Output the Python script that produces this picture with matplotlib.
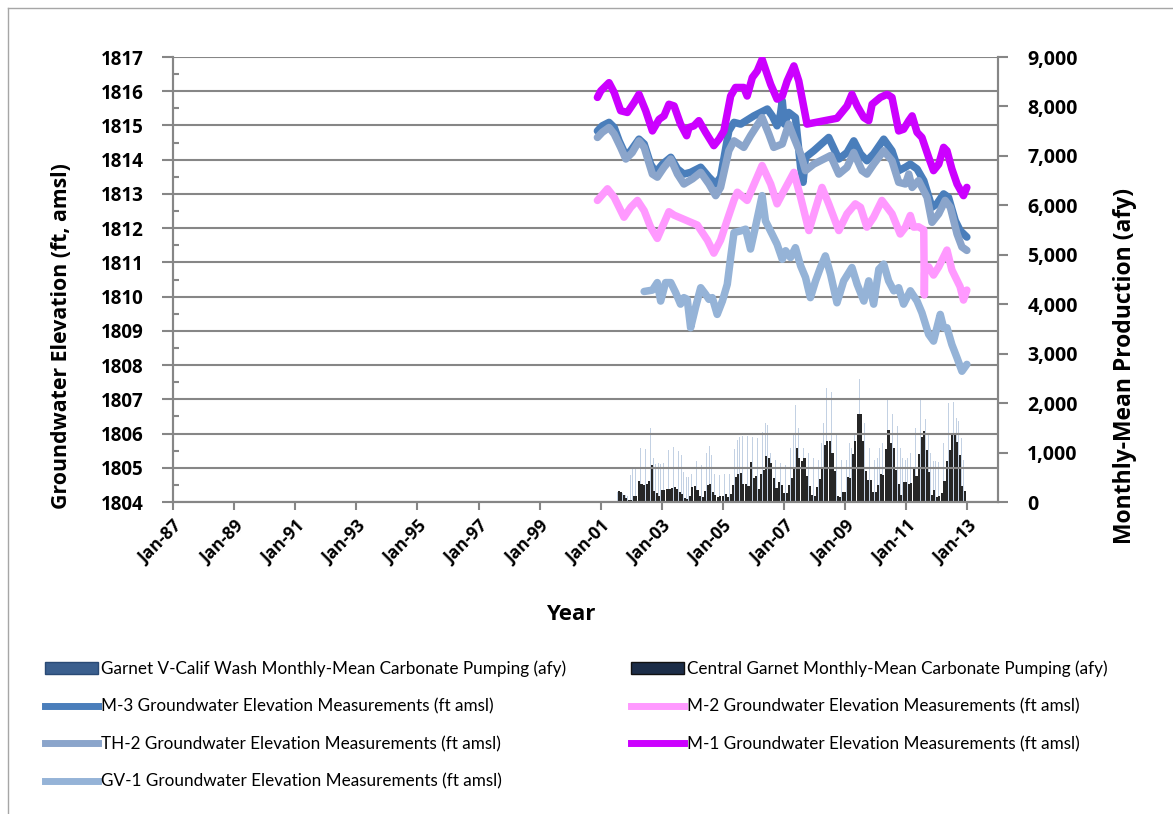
import matplotlib.pyplot as plt
import numpy as np
from matplotlib.lines import Line2D
from matplotlib.patches import Patch

plt.rcParams['font.family'] = ['Open Sans', 'DejaVu Sans']

# monthly pumping, Aug-2001 .. Dec-2012 (afy)
pump_start = 2001 + 7 / 12
central_garnet = [230, 200, 150, 90, 50,
                  40, 130, 120, 430, 360, 350, 370, 430, 740, 230, 190, 120,
                  250, 240, 260, 260, 280, 300, 260, 200, 170, 80, 60, 120,
                  300, 330, 250, 130, 110, 230, 340, 360, 200, 150, 110, 130,
                  120, 160, 110, 170, 340, 500, 570, 590, 360, 370, 330, 800,
                  480, 520, 260, 560, 640, 930, 890, 780, 480, 280, 400, 350,
                  190, 190, 340, 480, 700, 1100, 880, 820, 880, 530, 320, 140,
                  130, 310, 460, 700, 1150, 1230, 1230, 1000, 630, 120, 110, 200,
                  200, 510, 480, 970, 1230, 1780, 1780, 1230, 620, 450, 450, 200,
                  200, 340, 560, 540, 1070, 1460, 1200, 1100, 650, 360, 140, 400,
                  400, 360, 380, 715, 530, 970, 1320, 1430, 1050, 610, 140, 240,
                  110, 120, 190, 430, 820, 1050, 1350, 1350, 1215, 945, 330, 215]
garnet_v_calif = [200, 200, 180, 150, 120,
                  550, 680, 680, 760, 1100, 1000, 1070, 1170, 1490, 900, 760, 780,
                  760, 780, 980, 1050, 1080, 1120, 1100, 1030, 960, 600, 500, 500,
                  560, 820, 830, 840, 740, 800, 1000, 1130, 960, 560, 550, 540,
                  570, 560, 580, 560, 900, 1080, 1250, 1320, 1330, 1250, 1330, 1330,
                  1320, 1200, 1290, 1360, 1420, 1600, 1550, 1000, 900, 850, 780, 790,
                  780, 750, 900, 1100, 1380, 1960, 1500, 1300, 1100, 1050, 1000, 900,
                  880, 900, 850, 1200, 1600, 2300, 2280, 2220, 1900, 1400, 900, 850,
                  860, 850, 1200, 1100, 1400, 1950, 2480, 2650, 1600, 1300, 1100, 880,
                  850, 900, 1100, 1200, 1600, 2100, 2130, 1780, 1800, 1540, 1100, 900,
                  850, 900, 1000, 1300, 1500, 1600, 2100, 2130, 1680, 1400, 1000, 830,
                  830, 800, 1000, 1200, 1650, 2000, 2050, 2030, 1700, 1640, 1300, 850]

# groundwater elevations (decimal year, ft amsl)
m3_yr = [2000.89, 2001.05, 2001.27, 2001.44, 2001.60, 2001.82, 2001.98, 2002.25, 2002.42, 2002.63,
         2002.80, 2003.02, 2003.29, 2003.51, 2003.72, 2003.94, 2004.27, 2004.54, 2004.76, 2004.92,
         2005.19, 2005.36, 2005.58, 2006.01, 2006.45, 2006.61, 2006.77, 2006.88, 2006.94, 2007.01,
         2007.15, 2007.37, 2007.54, 2007.62, 2007.70, 2007.97, 2008.46, 2008.79, 2009.06, 2009.28,
         2009.50, 2009.71, 2009.93, 2010.26, 2010.53, 2010.75, 2010.97, 2011.13, 2011.35, 2011.57,
         2011.84, 2012.00, 2012.22, 2012.38, 2012.60, 2012.76, 2012.98]
m3_ft = [1814.84, 1814.99, 1815.09, 1814.94, 1814.55, 1814.12, 1814.26, 1814.60, 1814.46, 1813.87,
         1813.63, 1813.87, 1814.07, 1813.73, 1813.58, 1813.63, 1813.78, 1813.49, 1813.29, 1813.49,
         1814.84, 1815.09, 1815.04, 1815.28, 1815.48, 1815.28, 1814.99, 1815.33, 1815.72, 1815.04,
         1815.38, 1815.23, 1813.78, 1813.34, 1814.07, 1814.26, 1814.65, 1814.02, 1814.21, 1814.55,
         1814.17, 1813.97, 1814.17, 1814.60, 1814.26, 1813.68, 1813.78, 1813.87, 1813.73, 1813.39,
         1812.61, 1812.71, 1813.00, 1812.90, 1812.22, 1811.93, 1811.74]

th2_yr = [2000.89, 2001.05, 2001.27, 2001.44, 2001.65, 2001.82, 2002.03, 2002.25, 2002.42, 2002.69,
          2002.85, 2003.07, 2003.29, 2003.51, 2003.72, 2004.00, 2004.27, 2004.54, 2004.76, 2004.92,
          2005.19, 2005.36, 2005.68, 2005.90, 2006.28, 2006.50, 2006.66, 2006.94, 2007.15, 2007.32,
          2007.54, 2007.70, 2007.97, 2008.52, 2008.79, 2009.06, 2009.28, 2009.55, 2009.71, 2009.93,
          2010.26, 2010.53, 2010.75, 2010.97, 2011.08, 2011.19, 2011.40, 2011.68, 2011.84, 2012.06,
          2012.27, 2012.44, 2012.66, 2012.82, 2012.98]
th2_ft = [1814.65, 1814.80, 1814.94, 1814.75, 1814.36, 1814.02, 1814.21, 1814.55, 1814.36, 1813.58,
          1813.49, 1813.78, 1814.02, 1813.58, 1813.29, 1813.44, 1813.63, 1813.29, 1812.95, 1813.19,
          1814.26, 1814.55, 1814.36, 1814.70, 1815.23, 1814.75, 1814.36, 1814.46, 1815.04, 1814.65,
          1814.17, 1813.68, 1813.87, 1814.12, 1813.58, 1813.78, 1814.21, 1813.68, 1813.58, 1813.87,
          1814.26, 1813.97, 1813.34, 1813.29, 1813.58, 1813.19, 1813.39, 1812.90, 1812.17, 1812.42,
          1812.81, 1812.61, 1811.83, 1811.45, 1811.35]

gv1_yr = [2002.42, 2002.69, 2002.85, 2002.96, 2003.12, 2003.29, 2003.45, 2003.61, 2003.72, 2003.83,
          2003.94, 2004.10, 2004.27, 2004.43, 2004.54, 2004.65, 2004.81, 2004.98, 2005.14, 2005.25,
          2005.36, 2005.58, 2005.74, 2005.90, 2006.07, 2006.28, 2006.39, 2006.61, 2006.77, 2006.94,
          2007.05, 2007.21, 2007.37, 2007.54, 2007.70, 2007.86, 2008.03, 2008.19, 2008.35, 2008.52,
          2008.73, 2008.95, 2009.22, 2009.39, 2009.61, 2009.77, 2009.93, 2010.10, 2010.26, 2010.42,
          2010.59, 2010.75, 2010.91, 2011.13, 2011.35, 2011.51, 2011.73, 2011.89, 2012.11, 2012.22,
          2012.33, 2012.49, 2012.66, 2012.82, 2012.98]
gv1_ft = [1810.15, 1810.19, 1810.41, 1809.87, 1810.41, 1810.41, 1810.12, 1809.78, 1809.97, 1809.92,
          1809.09, 1809.68, 1810.26, 1810.07, 1809.92, 1809.97, 1809.48, 1809.87, 1810.36, 1811.14,
          1811.87, 1811.92, 1811.97, 1811.39, 1812.07, 1812.95, 1812.21, 1811.82, 1811.53, 1811.09,
          1811.34, 1811.14, 1811.43, 1810.90, 1810.56, 1809.97, 1810.46, 1810.85, 1811.19, 1810.65,
          1809.82, 1810.46, 1810.85, 1810.36, 1809.87, 1810.46, 1809.78, 1810.80, 1810.95, 1810.46,
          1810.17, 1810.26, 1809.78, 1810.17, 1809.87, 1809.53, 1808.90, 1808.70, 1809.48, 1809.09,
          1809.09, 1808.60, 1808.21, 1807.82, 1808.02]

m2_yr = [2000.89, 2001.22, 2001.44, 2001.76, 2001.98, 2002.20, 2002.42, 2002.63, 2002.85, 2003.23,
         2003.40, 2004.16, 2004.49, 2004.70, 2004.92, 2005.14, 2005.36, 2005.47, 2005.79, 2006.28,
         2006.56, 2006.77, 2006.94, 2007.32, 2007.54, 2007.81, 2008.24, 2008.46, 2008.79, 2009.06,
         2009.33, 2009.50, 2009.71, 2009.93, 2010.20, 2010.53, 2010.80, 2010.97, 2011.13, 2011.24,
         2011.40, 2011.57, 2011.59, 2011.60, 2011.73, 2011.89, 2012.06, 2012.33, 2012.49, 2012.76,
         2012.87, 2012.98]
m2_ft = [1812.81, 1813.15, 1812.90, 1812.32, 1812.61, 1812.81, 1812.51, 1812.03, 1811.70, 1812.48,
         1812.38, 1812.09, 1811.65, 1811.27, 1811.65, 1812.24, 1812.82, 1813.05, 1812.81, 1813.83,
         1813.29, 1812.71, 1813.00, 1813.63, 1812.90, 1811.93, 1813.19, 1812.71, 1811.93, 1812.42,
         1812.71, 1812.61, 1812.03, 1812.32, 1812.81, 1812.42, 1811.83, 1812.03, 1812.37, 1812.03,
         1812.04, 1811.95, 1810.05, 1810.70, 1810.87, 1810.63, 1810.87, 1811.36, 1810.78, 1810.29,
         1809.90, 1810.19]

m1_yr = [2000.89, 2001.00, 2001.27, 2001.44, 2001.65, 2001.87, 2002.09, 2002.25, 2002.47, 2002.69,
         2002.91, 2003.07, 2003.23, 2003.40, 2003.61, 2003.81, 2003.89, 2004.05, 2004.21, 2004.43,
         2004.70, 2004.87, 2005.03, 2005.25, 2005.41, 2005.68, 2005.79, 2005.96, 2006.12, 2006.28,
         2006.39, 2006.56, 2006.77, 2006.94, 2007.10, 2007.32, 2007.48, 2007.75, 2008.73, 2009.06,
         2009.22, 2009.39, 2009.61, 2009.77, 2009.88, 2010.15, 2010.37, 2010.53, 2010.75, 2010.91,
         2011.08, 2011.19, 2011.35, 2011.51, 2011.73, 2011.89, 2012.06, 2012.22, 2012.33, 2012.49,
         2012.66, 2012.87, 2012.98]
m1_ft = [1815.82, 1816.01, 1816.25, 1815.96, 1815.43, 1815.38, 1815.67, 1815.91, 1815.43, 1814.84,
         1815.18, 1815.28, 1815.62, 1815.57, 1815.04, 1814.70, 1814.94, 1814.99, 1815.14, 1814.80,
         1814.41, 1814.60, 1814.84, 1815.86, 1816.11, 1816.11, 1815.86, 1816.40, 1816.59, 1816.93,
         1816.64, 1816.20, 1815.77, 1815.86, 1816.30, 1816.74, 1816.30, 1815.04, 1815.21, 1815.57,
         1815.91, 1815.57, 1815.23, 1815.14, 1815.62, 1815.82, 1815.91, 1815.82, 1814.84, 1814.89,
         1815.14, 1815.28, 1814.80, 1814.65, 1814.07, 1813.68, 1813.87, 1814.36, 1814.26, 1813.73,
         1813.29, 1812.95, 1813.19]

tick_years = list(range(1987, 2014, 2))
tick_labels = ['Jan-%02d' % (y % 100) for y in tick_years]

W, H = 1173, 814
fig = plt.figure(figsize=(W / 100, H / 100), dpi=100)
ax = fig.add_axes([173 / W, 1 - 502 / H, 825 / W, 445 / H])
ax2 = ax.twinx()

grid_c = '#868686'

# pumping bars on the right axis
months = pump_start + np.arange(len(central_garnet)) / 12
ax2.bar(months - 0.035, garnet_v_calif, width=0.022, color='#c3d1e3', linewidth=0, zorder=1)
ax2.bar(months, central_garnet, width=0.068, color='#262626', linewidth=0, zorder=2)
ax2.set_ylim(0, 9000)
ax2.set_yticks(np.arange(0, 9001, 1000))
ax2.set_yticklabels(['{:,}'.format(v) for v in range(0, 9001, 1000)])

# elevation lines on the left axis, drawn above the bars
ax.set_zorder(ax2.get_zorder() + 1)
ax.patch.set_visible(False)

kw = dict(lw=5.4, solid_joinstyle='round', solid_capstyle='round')
ax.plot(m3_yr, m3_ft, color='#4a7ebb', **kw)
ax.plot(m2_yr, m2_ft, color='#ff99ff', **kw)
ax.plot(th2_yr, th2_ft, color='#8ba5cb', **kw)
ax.plot(m1_yr, m1_ft, color='#cc00ff', **kw)
ax.plot(gv1_yr, gv1_ft, color='#95b3d7', **kw)

ax.set_xlim(1987, 2014)
ax.set_ylim(1804, 1817)
ax.set_yticks(range(1804, 1818))
ax.set_yticks(np.arange(1804.5, 1817, 1), minor=True)
ax.set_xticks(tick_years)
ax.set_xticklabels(tick_labels, rotation=45, ha='right', rotation_mode='anchor')

ax.grid(axis='y', color=grid_c, lw=1.5)
ax.set_axisbelow(True)
for a in (ax, ax2):
    for s in a.spines.values():
        s.set_color(grid_c)
        s.set_linewidth(1.5)
    a.spines['top'].set_visible(False)

ax.tick_params(axis='y', which='major', length=8, width=1.5, color=grid_c, labelsize=13.5, pad=13)
ax.tick_params(axis='y', which='minor', direction='in', length=4, width=1.5, color=grid_c)
ax.tick_params(axis='x', length=6, width=1.5, color=grid_c, labelsize=12.5, pad=5)
ax2.tick_params(axis='y', length=7, width=1.5, color=grid_c, labelsize=14, pad=14)
for lbl in ax.get_xticklabels() + ax.get_yticklabels() + ax2.get_yticklabels():
    lbl.set_fontweight('bold')

title_kw = dict(fontweight='bold', ha='center', va='center')
fig.text(62 / W, 1 - 336 / H, 'Groundwater Elevation (ft, amsl)', rotation=90, fontsize=15.3, **title_kw)
fig.text(1125 / W, 1 - 366 / H, 'Monthly-Mean Production (afy)', rotation=90, fontsize=16.5, **title_kw)
fig.text(571 / W, 1 - 614 / H, 'Year', fontsize=16, **title_kw)

handles = [
    Patch(facecolor='#3b5f8e', edgecolor='#2a4a75'),
    Line2D([], [], color='#4a7ebb', lw=5),
    Line2D([], [], color='#8ba5cb', lw=5),
    Line2D([], [], color='#95b3d7', lw=5),
    Patch(facecolor='#1c2d48', edgecolor='#111'),
    Line2D([], [], color='#ff99ff', lw=5),
    Line2D([], [], color='#cc00ff', lw=5),
]
labels = [
    'Garnet V-Calif Wash Monthly-Mean Carbonate Pumping (afy)',
    'M-3 Groundwater Elevation Measurements (ft amsl)',
    'TH-2 Groundwater Elevation Measurements (ft amsl)',
    'GV-1 Groundwater Elevation Measurements (ft amsl)',
    'Central Garnet Monthly-Mean Carbonate Pumping (afy)',
    'M-2 Groundwater Elevation Measurements (ft amsl)',
    'M-1 Groundwater Elevation Measurements (ft amsl)',
]
fig.legend(handles, labels, ncol=2, loc='upper left', bbox_to_anchor=(38 / W, 1 - 654 / H),
           frameon=False, prop={'family': 'Lato', 'size': 12.3}, handlelength=3.1,
           handletextpad=0.17, columnspacing=3.8, labelspacing=1.25, borderaxespad=0)

# outer frame
fig.add_artist(Line2D([8 / W, 8 / W], [0, 1 - 8 / H], color='#a6a6a6', lw=1, transform=fig.transFigure))
fig.add_artist(Line2D([8 / W, 1], [1 - 8 / H, 1 - 8 / H], color='#a6a6a6', lw=1, transform=fig.transFigure))

fig.savefig('out.png', dpi=100)
